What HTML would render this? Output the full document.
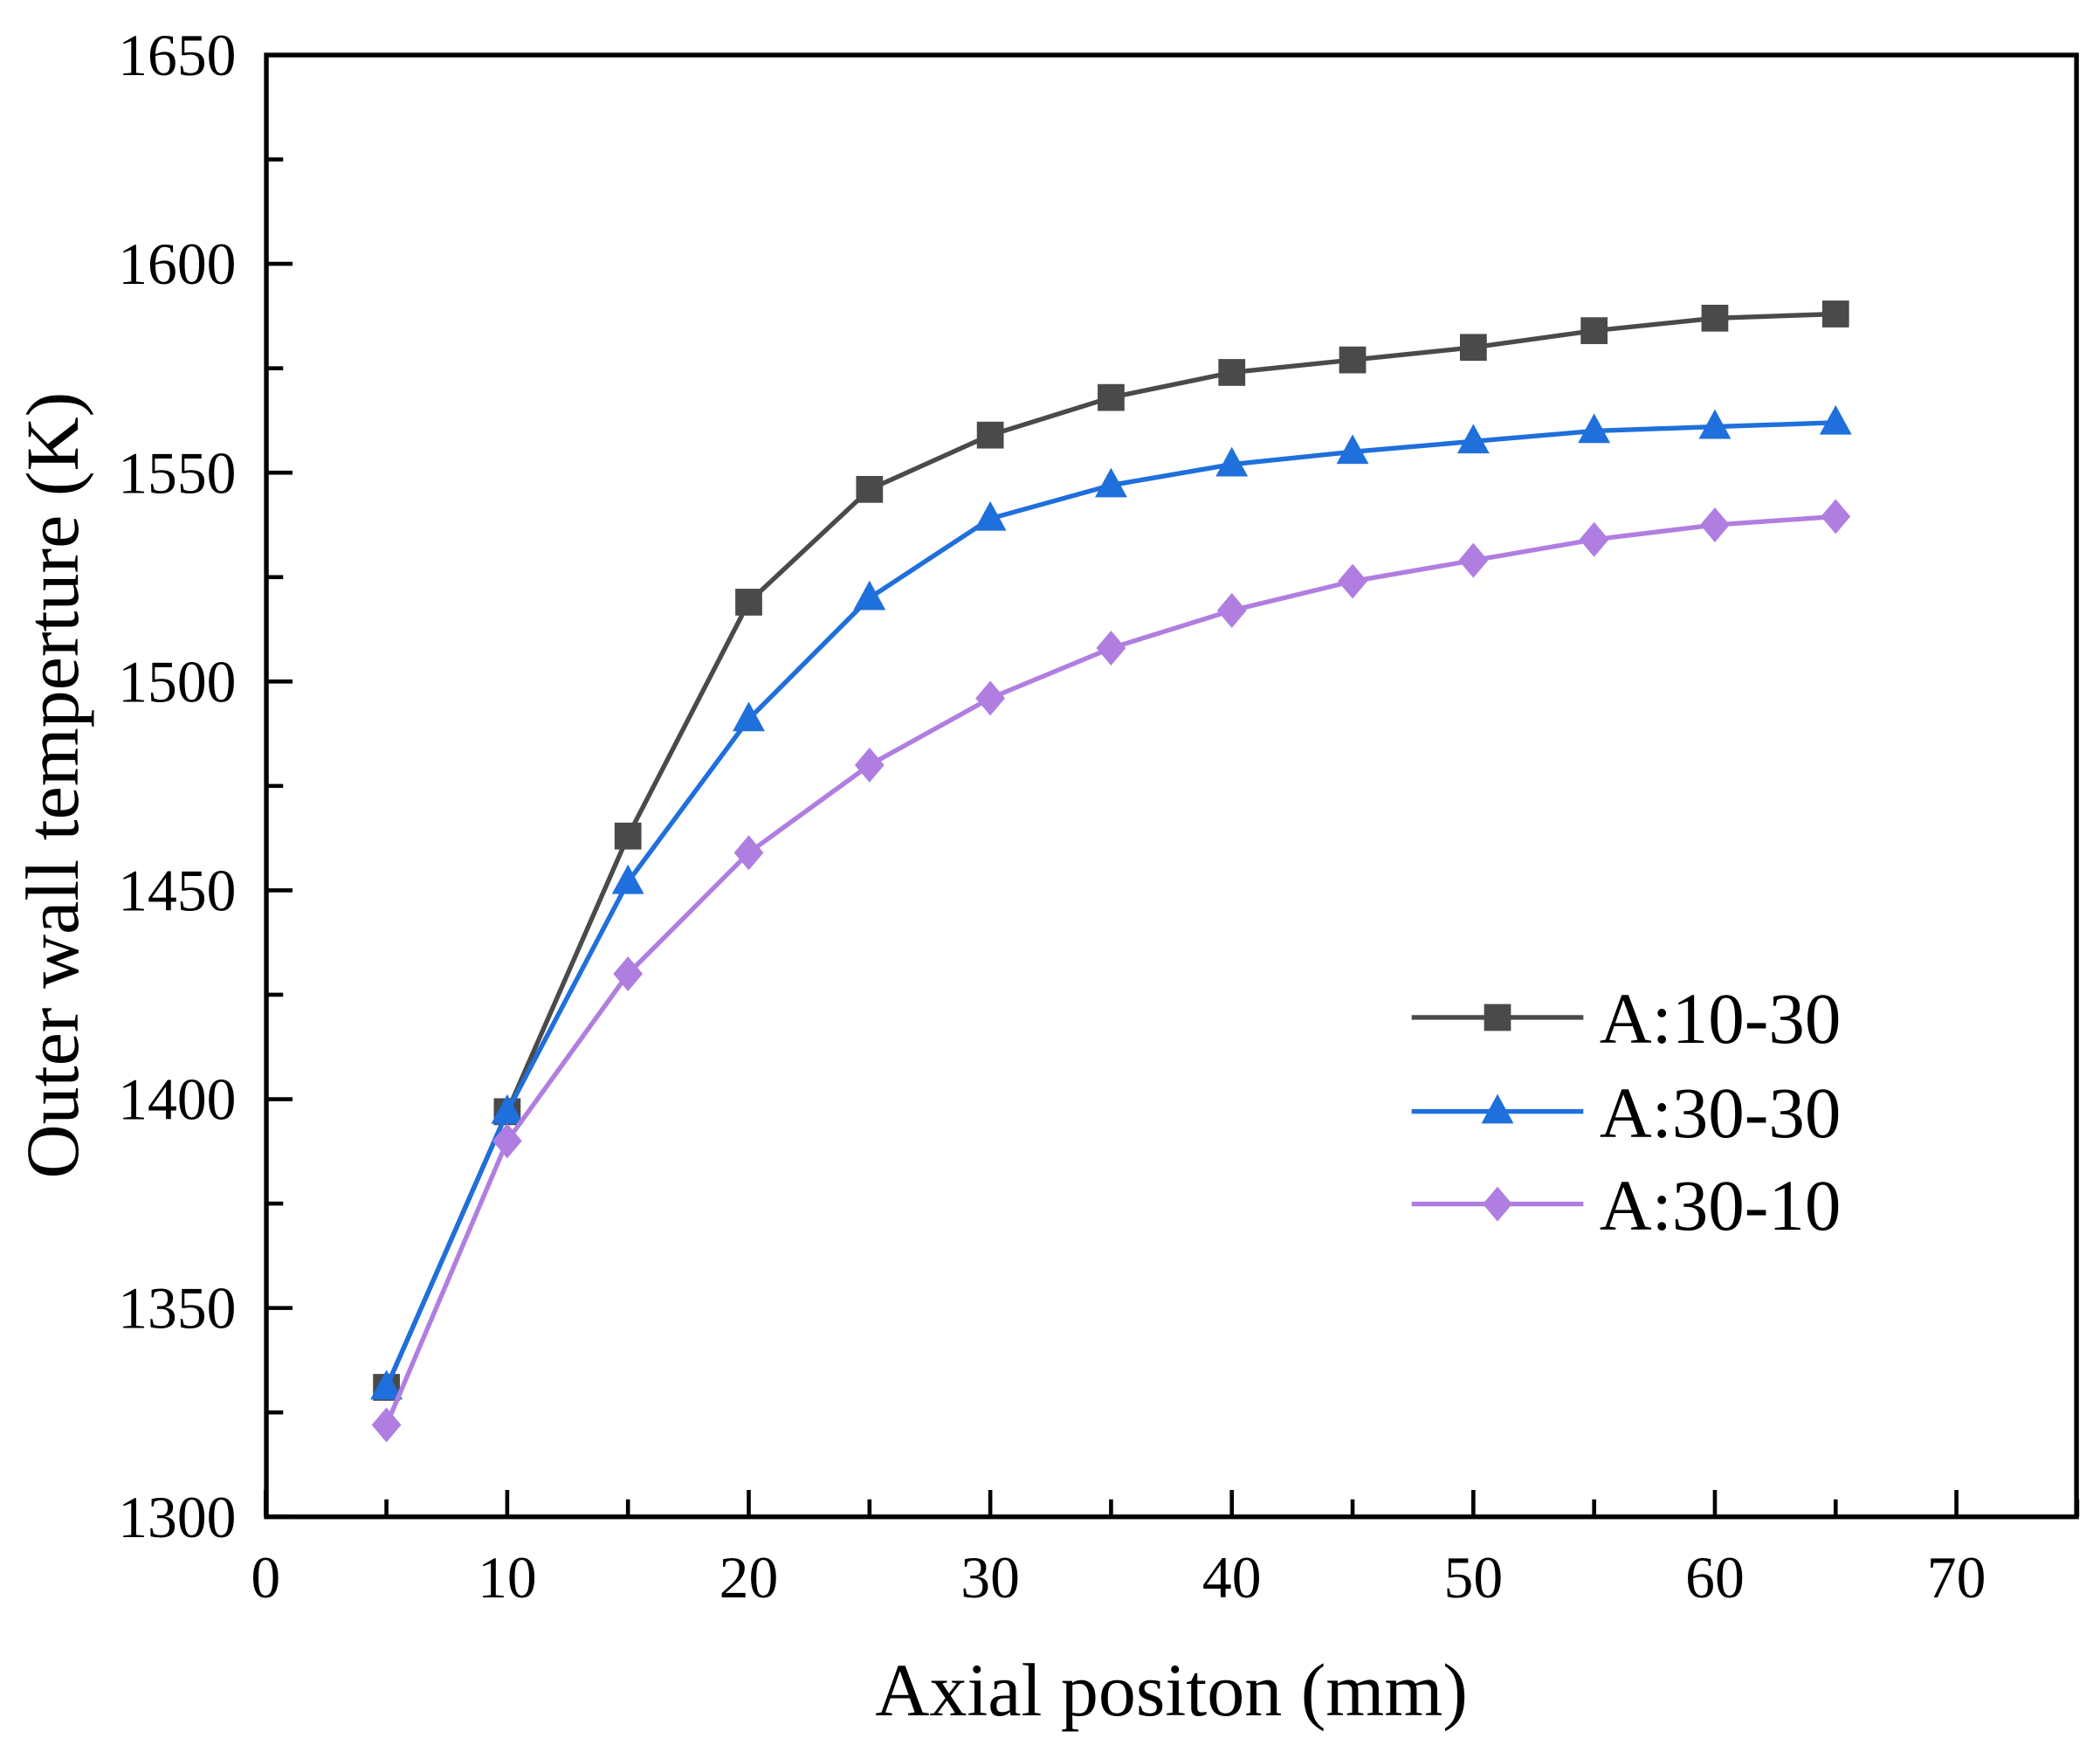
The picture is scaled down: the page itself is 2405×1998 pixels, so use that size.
<!DOCTYPE html>
<html><head><meta charset="utf-8"><style>html,body{margin:0;padding:0;background:#fff}svg{display:block}</style></head>
<body>
<svg width="2405" height="1998" viewBox="0 0 1565 1300" preserveAspectRatio="none" xmlns="http://www.w3.org/2000/svg" font-family="Liberation Serif, serif">
<rect width="1565" height="1300" fill="#fff"/>
<g id="ticks" stroke="#000" stroke-width="3"></g>
<rect x="198.5" y="41" width="1349" height="1089" fill="none" stroke="#000" stroke-width="3.5"/>
<g id="series"></g>
<g font-size="44" text-anchor="end" id="ylab"></g>
<g font-size="44" text-anchor="middle" id="xlab"></g>
<text x="873" y="1278" font-size="56" text-anchor="middle">Axial positon (mm)</text>
<text transform="translate(58,585) rotate(-90)" font-size="56" text-anchor="middle">Outer wall temperture (K)</text>
<g id="legend" font-size="54"></g>
<script>
const ns="http://www.w3.org/2000/svg";
const X=v=>198+v*18, Y=v=>1130-(v-1300)*1089/350;
function el(t,a,p,txt){const e=document.createElementNS(ns,t);for(const k in a)e.setAttribute(k,a[k]);if(txt!==undefined)e.textContent=txt;document.getElementById(p).appendChild(e);return e;}
for(let v=0;v<=75;v+=5){const m=v%10==0;el('line',{x1:X(v),x2:X(v),y1:1130,y2:1130-(m?20:13)},'ticks');if(m)el('text',{x:X(v),y:1190},'xlab',v);}
for(let v=1300;v<=1650;v+=25){const m=v%50==0;el('line',{x1:198,x2:198+(m?20:13),y1:Y(v),y2:Y(v)},'ticks');if(m)el('text',{x:176,y:Y(v)+15},'ylab',v);}
const xs=[5,10,15,20,25,30,35,40,45,50,55,60,65];
const S=[
 {c:'#4a4a4a',m:'sq',d:[1331,1397,1463,1519,1546,1559,1568,1574,1577,1580,1584,1587,1588],n:'A:10-30',ly:758},
 {c:'#1f6fdc',m:'tri',d:[1331,1397,1452,1491,1520,1539,1547,1552,1555,1557.5,1560,1561,1562],n:'A:30-30',ly:828},
 {c:'#b07ee0',m:'dia',d:[1322,1390,1430,1459,1480,1496,1508,1517,1524,1529,1534,1537.5,1539.5],n:'A:30-10',ly:897}];
function mk(s,x,y,p){
 if(s.m=='sq')el('rect',{x:x-10,y:y-10,width:20,height:20,fill:s.c},p);
 else if(s.m=='tri')el('polygon',{points:`${x},${y-13} ${x+12},${y+9} ${x-12},${y+9}`,fill:s.c},p);
 else el('polygon',{points:`${x},${y-13} ${x+11},${y} ${x},${y+13} ${x-11},${y}`,fill:s.c},p);
}
for(const s of S){
 el('polyline',{points:xs.map((x,i)=>X(x)+','+Y(s.d[i])).join(' '),fill:'none',stroke:s.c,'stroke-width':3.5},'series');
 xs.forEach((x,i)=>mk(s,X(x),Y(s.d[i]),'series'));
 el('line',{x1:1052,x2:1180,y1:s.ly,y2:s.ly,stroke:s.c,'stroke-width':3.5},'legend');
 mk(s,1116,s.ly,'legend');
 el('text',{x:1192,y:s.ly+19},'legend',s.n);
}
</script>
</svg>
</body></html>
